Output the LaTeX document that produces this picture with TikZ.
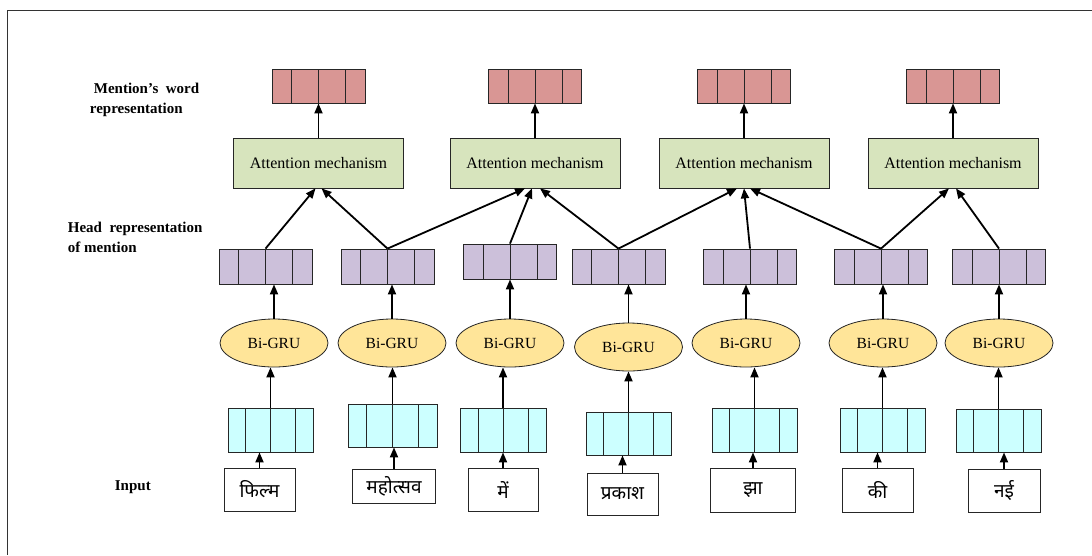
\documentclass[tikz,border=0pt]{standalone}
\usepackage{fontspec}
\setmainfont{Liberation Serif}
\newfontfamily\hindi[Script=Devanagari]{Noto Sans}
\usetikzlibrary{arrows.meta,shapes.geometric,calc}
\definecolor{wordred}{RGB}{217,150,148}
\definecolor{headlilac}{RGB}{204,192,218}
\definecolor{attgreen}{RGB}{215,228,189}
\definecolor{gruyellow}{RGB}{255,229,153}
\definecolor{embcyan}{RGB}{204,255,255}
\tikzset{
  cellbar/.style={draw=black!85,line width=0.8pt,inner sep=0pt,minimum width=93pt,minimum height=35pt,
    path picture={\foreach \f in {0.21,0.5,0.79}
      \draw[line width=0.8pt,black!85] ($(path picture bounding box.south west)!\f!(path picture bounding box.south east)$)
        -- ($(path picture bounding box.north west)!\f!(path picture bounding box.north east)$);}},
  wordvec/.style={cellbar,fill=wordred,minimum height=34pt},
  headvec/.style={cellbar,fill=headlilac},
  embvec/.style={cellbar,fill=embcyan},
  attbox/.style={draw=black!85,line width=0.8pt,fill=attgreen,minimum width=170pt,minimum height=50pt,
    font=\fontsize{16}{18}\selectfont},
  gru/.style={ellipse,draw=black!85,line width=0.8pt,fill=gruyellow,minimum width=108pt,minimum height=48pt,
    inner sep=0pt,font=\fontsize{15.5}{18}\selectfont},
  inbox/.style={draw=black!85,line width=0.8pt,inner sep=0pt,font=\hindi\fontsize{19}{21}\selectfont},
  sidelabel/.style={anchor=west,align=left,inner sep=0pt,font=\bfseries\fontsize{15}{20}\selectfont}
}
\begin{document}
\begin{tikzpicture}[>={Triangle[length=10pt,width=8pt]},x=1pt,y=-1pt,line width=1.8pt]
		\useasboundingbox (0,0) rectangle (1092,555);
		\draw[line width=0.9pt,black!80] (1092,10) -- (7,10) -- (7,555);
		% side labels
		\node[sidelabel] (lbword) at (89,100) {\hspace*{4pt}Mention's\ \ word\\representation};
		\node[sidelabel] (lbhead) at (67,237) {Head\ \ representation\\of mention};
		\node[sidelabel] (lbin) at (114,487) {Input};
		% mention word vectors and attention
		\foreach \i/\x in {1/318.5,2/535,3/744,4/953}{
			\node[wordvec] (R\i) at (\x,86) {};
			\node[attbox] (A\i) at (\x,163) {Attention mechanism};
			\draw[->] (A\i.north) -- (R\i.south);
		}
		% head vectors, Bi-GRU, embeddings
		\foreach \i/\xp/\yp/\xe/\ye/\xc/\yc/\wc/\hc in {1/265.5/266.5/274/343/270.5/430/85/44,
			2/387.5/266.5/392/343/392.5/425.5/89/43,3/510/261.5/510/343/503/430/86/44,
			4/618.5/266.5/628.5/347/628.5/433.5/85/43,5/750/266.5/746/343/754.5/430/85/44,
			6/881/266.5/883/343/882.5/430/85/44,7/999/266.5/999/343/998.5/430.5/85/43}{
			\node[headvec] (P\i) at (\xp,\yp) {};
			\node[gru] (E\i) at (\xe,\ye) {Bi-GRU};
			\node[embvec,minimum width=\wc pt,minimum height=\hc pt] (C\i) at (\xc,\yc) {};
			\draw[->] (E\i.north) -- (E\i.north |- P\i.south);
			\draw[->] (C\i.north) -- (C\i.north |- E\i.south);
		}
		% input words
		\foreach \i/\x/\y/\w/\h/\word in {1/259.5/489.5/71/43/फिल्म,2/394/486/83/34/महोत्सव,3/503/490/70/43/में,
			4/622.5/494/71/42/प्रकाश,5/753/490/85/44/झा,6/877.5/490/71/44/की,7/1004/490.5/72/43/नई}{
			\node[inbox,minimum width=\w pt,minimum height=\h pt] (I\i) at (\x,\y) {\word};
			\draw[->] (I\i.north) -- (I\i.north |- C\i.south);
		}
		% head vectors into attention
		\draw[->] (P1.north) -- ([xshift=-3pt]A1.south);
		\draw[->] (P2.north) -- ([xshift=3pt]A1.south);
		\draw[->] (P2.north) -- ([xshift=-10pt]A2.south);
		\draw[->] (P3.north) -- ([xshift=-3pt]A2.south);
		\draw[->] (P4.north) -- ([xshift=5pt]A2.south);
		\draw[->] (P4.north) -- ([xshift=-7pt]A3.south);
		\draw[->] (P5.north) -- (A3.south);
		\draw[->] (P6.north) -- ([xshift=6pt]A3.south);
		\draw[->] (P6.north) -- ([xshift=-4pt]A4.south);
		\draw[->] (P7.north) -- ([xshift=3pt]A4.south);
		\end{tikzpicture}
\end{document}
